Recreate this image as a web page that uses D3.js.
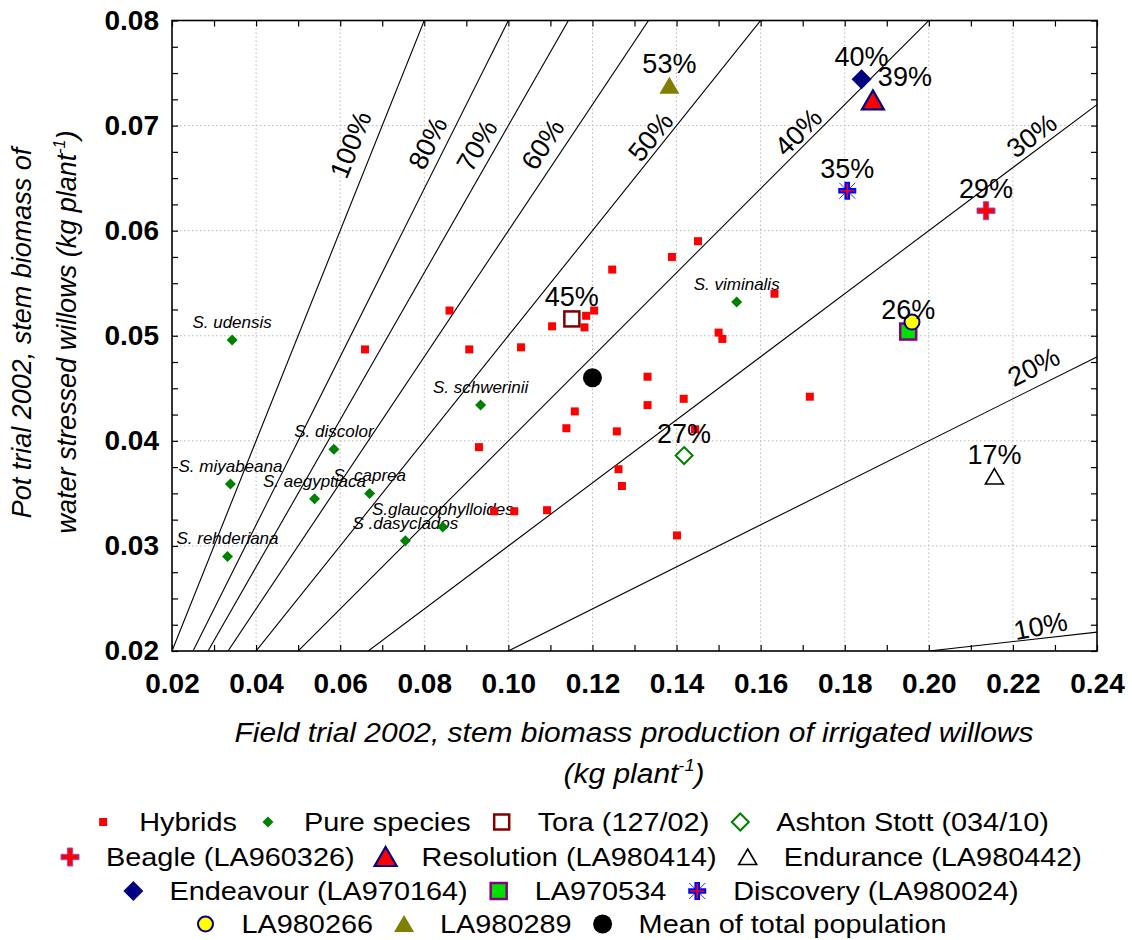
<!DOCTYPE html>
<html>
<head>
<meta charset="utf-8">
<script src="https://cdn.jsdelivr.net/npm/d3@7"></script>
<style>
  html, body { margin: 0; padding: 0; background: #fff; }
  svg { display: block; font-family: "Liberation Sans", Arial, sans-serif; }
</style>
</head>
<body>
<svg id="chart" width="1132" height="940"></svg>
<script>
// Stem biomass: irrigated field trial (x) vs water-stressed pot trial (y), 2002

// Hybrids (kg plant-1)
const hybridX = [0.0860, 0.0659, 0.0907, 0.1030, 0.1104, 0.1185, 0.1204, 0.1181, 0.1247, 0.1389,
                 0.1451, 0.1500, 0.1509, 0.1633, 0.1331, 0.1331, 0.1417, 0.1158, 0.1138, 0.1258,
                 0.0930, 0.1262, 0.1270, 0.1092, 0.0966, 0.1014, 0.1401, 0.1444, 0.1717];
const hybridY = [0.0524, 0.0487, 0.0487, 0.0489, 0.0509, 0.0519, 0.0524, 0.0508, 0.0563, 0.0575,
                 0.0590, 0.0503, 0.0497, 0.0540, 0.0461, 0.0434, 0.0440, 0.0428, 0.0412, 0.0409,
                 0.0394, 0.0373, 0.0357, 0.0334, 0.0333, 0.0333, 0.0310, 0.0411, 0.0442];

// Pure species
const speciesNames = ["S. udensis", "S. discolor", "S. miyabeana", "S. aegyptiaca", "S. caprea",
                      "S.glaucophylloides", "S .dasyclados", "S. rehderiana", "S. schwerinii", "S. viminalis"];
const speciesX = [0.0343, 0.0585, 0.0339, 0.0539, 0.0670, 0.0844, 0.0755, 0.0332, 0.0934, 0.1543];
const speciesY = [0.0496, 0.0392, 0.0359, 0.0345, 0.0350, 0.0318, 0.0305, 0.0290, 0.0434, 0.0532];

// Named clones and the population mean
const cultivarKeys  = ["tora", "ashton", "beagle", "resolution", "endurance", "endeavour",
                       "la970534", "discovery", "la980266", "la980289", "mean"];
const cultivarNames = ["Tora (127/02)", "Ashton Stott (034/10)", "Beagle (LA960326)", "Resolution (LA980414)",
                       "Endurance (LA980442)", "Endeavour (LA970164)", "LA970534", "Discovery (LA980024)",
                       "LA980266", "LA980289", "Mean of total population"];
const cultivarX   = [0.1151, 0.1418, 0.2136, 0.1867, 0.2156, 0.1840, 0.1951, 0.1806, 0.1960, 0.1383, 0.1200];
const cultivarY   = [0.0516, 0.0386, 0.0619, 0.0724, 0.0366, 0.0744, 0.0504, 0.0638, 0.0513, 0.0738, 0.0460];
const cultivarPct = ["45%", "27%", "29%", "39%", "17%", "40%", "26%", "35%", "", "53%", ""];

// Ratio guide lines (pot / field)
const guideRatios = [1.0, 0.8, 0.7, 0.6, 0.5, 0.4, 0.3, 0.2];
const guideLabels = ["100%", "80%", "70%", "60%", "50%", "40%", "30%", "20%"];
const guideLabelX = [0.0674, 0.0845, 0.0961, 0.1120, 0.1363, 0.1712, 0.2265, 0.2270];
const tenPctX = [0.2000, 0.2400];
const tenPctY = [0.0200, 0.0218];
const tenPctLabelX = 0.2268;

// Axis ticks
const xTicks = [0.02, 0.04, 0.06, 0.08, 0.10, 0.12, 0.14, 0.16, 0.18, 0.20, 0.22, 0.24];
const yTicks = [0.02, 0.03, 0.04, 0.05, 0.06, 0.07, 0.08];

// ---------------------------------------------------------------------------
const svg = d3.select("#chart");
const L = 172, R = 1097, T = 20.5, B = 651;
const x = d3.scaleLinear().domain([0.02, 0.24]).range([L, R]);
const y = d3.scaleLinear().domain([0.02, 0.08]).range([B, T]);

svg.append("defs").append("clipPath").attr("id", "plotClip")
  .append("rect").attr("x", L).attr("y", T).attr("width", R - L).attr("height", B - T);

// grid
const grid = svg.append("g").attr("stroke", "#b8b8b8").attr("stroke-width", 1)
  .attr("stroke-dasharray", "1.5,2.5");
grid.selectAll("line.gx").data(xTicks.slice(1, -1)).join("line")
  .attr("x1", d => x(d)).attr("x2", d => x(d)).attr("y1", T).attr("y2", B);
grid.selectAll("line.gy").data(yTicks.slice(1, -1)).join("line")
  .attr("y1", d => y(d)).attr("y2", d => y(d)).attr("x1", L).attr("x2", R);

// axes with inward ticks on all four sides
const minorX = d3.range(0, 23).map(i => +(0.02 + i * 0.01).toFixed(3));
const minorY = d3.range(0, 25).map(i => +(0.02 + i * 0.0025).toFixed(4));
const tickStyle = g => { g.select(".domain").remove(); g.selectAll(".tick line").attr("stroke", "#000").attr("stroke-width", 1.2); };

svg.append("g").attr("transform", `translate(0,${B})`)
  .call(d3.axisBottom(x).tickValues(minorX).tickSize(-6).tickFormat(""))
  .call(tickStyle);
svg.append("g").attr("transform", `translate(0,${T})`)
  .call(d3.axisTop(x).tickValues(minorX).tickSize(-6).tickFormat(""))
  .call(tickStyle);
svg.append("g").attr("transform", `translate(${L},0)`)
  .call(d3.axisLeft(y).tickValues(minorY).tickSize(-6).tickFormat(""))
  .call(tickStyle);
svg.append("g").attr("transform", `translate(${R},0)`)
  .call(d3.axisRight(y).tickValues(minorY).tickSize(-6).tickFormat(""))
  .call(tickStyle);

// tick labels
const xAxis = svg.append("g").attr("transform", `translate(0,${B})`)
  .call(d3.axisBottom(x).tickValues(xTicks).tickSize(0).tickPadding(22).tickFormat(d3.format(".2f")));
xAxis.select(".domain").remove();
xAxis.selectAll("text").attr("font-size", 28).attr("font-weight", "bold")
  .attr("font-family", "'Liberation Sans', Arial, sans-serif").attr("fill", "#000");

const yAxis = svg.append("g").attr("transform", `translate(${L},0)`)
  .call(d3.axisLeft(y).tickValues(yTicks).tickSize(0).tickPadding(13).tickFormat(d3.format(".2f")));
yAxis.select(".domain").remove();
yAxis.selectAll("text").attr("font-size", 28).attr("font-weight", "bold")
  .attr("font-family", "'Liberation Sans', Arial, sans-serif").attr("fill", "#000");

// frame
svg.append("rect").attr("x", L).attr("y", T).attr("width", R - L).attr("height", B - T)
  .attr("fill", "none").attr("stroke", "#000").attr("stroke-width", 1.6);

// ratio guide lines
const plot = svg.append("g").attr("clip-path", "url(#plotClip)");
const line = d3.line().x(d => x(d[0])).y(d => y(d[1]));
plot.selectAll("path.guide").data(guideRatios).join("path")
  .attr("d", r => line([[0, 0], [0.3, 0.3 * r]]))
  .attr("fill", "none").attr("stroke", "#000").attr("stroke-width", 1.1);
plot.append("path").attr("d", line(tenPctX.map((v, i) => [v, tenPctY[i]])))
  .attr("fill", "none").attr("stroke", "#000").attr("stroke-width", 1.1);

// guide labels, rotated along their line and shifted to its upper-left side
const labelOffsets = [22, 17, 17, 19, 13, 13, 14, 19];
const pxSlope = (y(0) - y(0.1)) / (x(0.1) - x(0));
guideRatios.forEach((r, i) => {
  const lx = guideLabelX[i];
  const px = x(lx), py = y(lx * r);
  const ang = Math.atan(r * pxSlope);          // angle above horizontal
  const nx = -Math.sin(ang), ny = -Math.cos(ang); // normal toward upper-left
  const cx = px + nx * labelOffsets[i], cy = py + ny * labelOffsets[i];
  svg.append("text").attr("transform", `translate(${cx},${cy}) rotate(${-ang * 180 / Math.PI})`)
    .attr("text-anchor", "middle").attr("dominant-baseline", "central")
    .attr("font-size", 27).text(guideLabels[i]);
});
{
  const slope = (tenPctY[1] - tenPctY[0]) / (tenPctX[1] - tenPctX[0]);
  const ly = tenPctY[0] + slope * (tenPctLabelX - tenPctX[0]);
  const px = x(tenPctLabelX), py = y(ly);
  svg.append("text").attr("transform", `translate(${px - 1},${py - 12}) rotate(-11)`)
    .attr("text-anchor", "middle").attr("dominant-baseline", "central")
    .attr("font-size", 27).text("10%");
}

// marker shapes
function marker(g, key) {
  switch (key) {
    case "hyb":
      g.append("rect").attr("x", -4).attr("y", -4).attr("width", 8).attr("height", 8).attr("fill", "#ff0000");
      break;
    case "pure":
      g.append("path").attr("d", "M0,-5.5L5.5,0L0,5.5L-5.5,0Z").attr("fill", "#008000");
      break;
    case "tora":
      g.append("rect").attr("x", -7.5).attr("y", -7.5).attr("width", 15).attr("height", 15)
        .attr("fill", "#fff").attr("stroke", "#800000").attr("stroke-width", 2.5);
      break;
    case "ashton":
      g.append("path").attr("d", "M0,-8.5L8.5,0L0,8.5L-8.5,0Z")
        .attr("fill", "#fff").attr("stroke", "#008000").attr("stroke-width", 2);
      break;
    case "beagle":
      g.append("path").attr("d", "M-2.7,-9H2.7V-2.7H9V2.7H2.7V9H-2.7V2.7H-9V-2.7H-2.7Z")
        .attr("fill", "#ff0000").attr("stroke", "#9050d0").attr("stroke-width", 1);
      break;
    case "resolution":
      g.append("path").attr("d", "M0,-10L11,9H-11Z")
        .attr("fill", "#ff0000").attr("stroke", "#000080").attr("stroke-width", 2.2);
      break;
    case "endurance":
      g.append("path").attr("d", "M0,-8L9,7.5H-9Z")
        .attr("fill", "none").attr("stroke", "#000").attr("stroke-width", 1.6);
      break;
    case "endeavour":
      g.append("path").attr("d", "M0,-10L10,0L0,10L-10,0Z").attr("fill", "#000080");
      break;
    case "la970534":
      g.append("rect").attr("x", -8).attr("y", -8).attr("width", 16).attr("height", 16)
        .attr("fill", "#00e000").attr("stroke", "#800080").attr("stroke-width", 2.5);
      break;
    case "discovery":
      g.append("path").attr("d", "M-8,-8L8,8M-8,8L8,-8").attr("stroke", "#3030ff").attr("stroke-width", 1);
      g.append("path").attr("d", "M-2.8,-9H2.8V-2.8H9V2.8H2.8V9H-2.8V2.8H-9V-2.8H-2.8Z").attr("fill", "#0000ff");
      g.append("path").attr("d", "M0,-7V7M-7,0H7").attr("stroke", "#ff0000").attr("stroke-width", 1.6);
      break;
    case "la980266":
      g.append("circle").attr("r", 7.5).attr("fill", "#ffff00").attr("stroke", "#000080").attr("stroke-width", 2);
      break;
    case "la980289":
      g.append("path").attr("d", "M0,-9L10,8H-10Z").attr("fill", "#808000");
      break;
    case "mean":
      g.append("circle").attr("r", 9.5).attr("fill", "#000");
      break;
  }
}

// species labels and markers
speciesNames.forEach((n, i) => {
  svg.append("text").attr("x", x(speciesX[i])).attr("y", y(speciesY[i]) - 12)
    .attr("text-anchor", "middle").attr("font-size", 17).attr("font-style", "italic").text(n);
});
speciesNames.forEach((n, i) => {
  marker(svg.append("g").attr("transform", `translate(${x(speciesX[i])},${y(speciesY[i])})`), "pure");
});

// hybrids
hybridX.forEach((hx, i) => {
  marker(svg.append("g").attr("transform", `translate(${x(hx)},${y(hybridY[i])})`), "hyb");
});

// named clones; label of each stating its pot/field percentage
const pctShift = { resolution: [32, -14] };
cultivarKeys.forEach((k, i) => {
  marker(svg.append("g").attr("transform", `translate(${x(cultivarX[i])},${y(cultivarY[i])})`), k);
});
cultivarKeys.forEach((k, i) => {
  if (!cultivarPct[i]) return;
  const s = pctShift[k] || [0, -13];
  svg.append("text").attr("x", x(cultivarX[i]) + s[0]).attr("y", y(cultivarY[i]) + s[1])
    .attr("text-anchor", "middle").attr("font-size", 27).text(cultivarPct[i]);
});

// axis titles (set slightly wide)
const xt = svg.append("g").attr("font-style", "italic").attr("font-size", 28).attr("text-anchor", "middle");
xt.append("text").attr("transform", "translate(634,742) scale(1.07,1)")
  .text("Field trial 2002, stem biomass production of irrigated willows");
const xt2 = xt.append("text").attr("transform", "translate(634,783) scale(1.07,1)");
xt2.append("tspan").text("(kg plant");
xt2.append("tspan").attr("font-size", 17).attr("dy", -12).text("-1");
xt2.append("tspan").attr("dy", 12).text(")");

const yt = svg.append("g").attr("font-style", "italic").attr("font-size", 27).attr("text-anchor", "middle");
yt.append("text").attr("transform", "translate(31,333) rotate(-90)")
  .text("Pot trial 2002, stem biomass of");
const yt2 = yt.append("text").attr("transform", "translate(76,332) rotate(-90)");
yt2.append("tspan").text("water stressed willows (kg plant");
yt2.append("tspan").attr("font-size", 16).attr("dy", -11).text("-1");
yt2.append("tspan").attr("dy", 11).text(")");

// legend
const legendRows = [
  [["hyb", "Hybrids"], ["pure", "Pure species"], ["tora", cultivarNames[0]], ["ashton", cultivarNames[1]]],
  [["beagle", cultivarNames[2]], ["resolution", cultivarNames[3]], ["endurance", cultivarNames[4]]],
  [["endeavour", cultivarNames[5]], ["la970534", cultivarNames[6]], ["discovery", cultivarNames[7]]],
  [["la980266", cultivarNames[8]], ["la980289", cultivarNames[9]], ["mean", cultivarNames[10]]]
];
const rowY = [822, 857, 891, 924];
const legStretch = 1.11, markGap = 36, itemGap = 31;
legendRows.forEach((row, r) => {
  const g = svg.append("g");
  let cx = 10;
  row.forEach(([k, label], j) => {
    marker(g.append("g").attr("transform", `translate(${cx},0)`), k);
    const t = g.append("text").attr("transform", `translate(${cx + markGap},9) scale(${legStretch},1)`)
      .attr("font-size", 26).text(label);
    const w = t.node().getComputedTextLength() * legStretch;
    cx = cx + markGap + w + itemGap;
  });
  const total = cx - itemGap;
  g.attr("transform", `translate(${571 - total / 2},${rowY[r]})`);
});
</script>
</body>
</html>
